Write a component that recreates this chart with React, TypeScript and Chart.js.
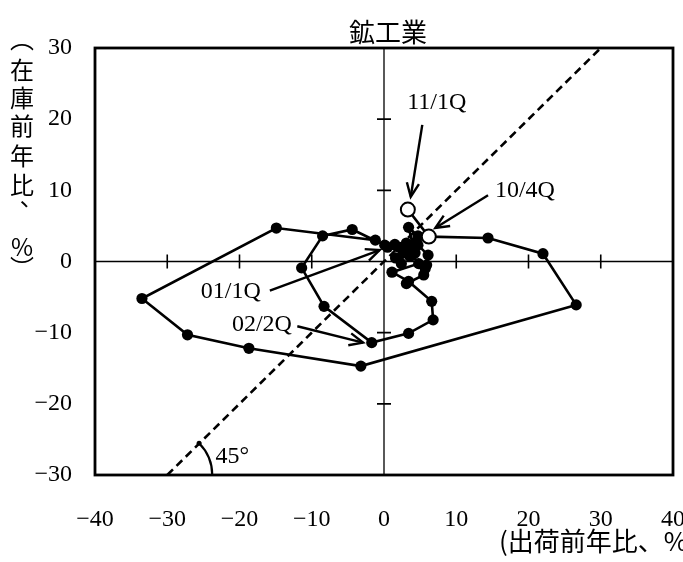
import React, { useEffect, useRef } from "react";
import { Chart, registerables } from "chart.js";

Chart.register(...registerables);

// ---- data (shipments YoY = x, inventory YoY = y) ----
const quarters = [
  "00/1Q", "00/2Q", "00/3Q", "00/4Q",
  "01/1Q", "01/2Q", "01/3Q", "01/4Q",
  "02/1Q", "02/2Q", "02/3Q", "02/4Q",
  "03/1Q", "03/2Q", "03/3Q", "03/4Q",
  "04/1Q", "04/2Q", "04/3Q", "04/4Q",
  "05/1Q", "05/2Q", "05/3Q", "05/4Q",
  "06/1Q", "06/2Q", "06/3Q", "06/4Q",
  "07/1Q", "07/2Q", "07/3Q", "07/4Q",
  "08/1Q", "08/2Q", "08/3Q", "08/4Q",
  "09/1Q", "09/2Q", "09/3Q", "09/4Q",
  "10/1Q", "10/2Q", "10/3Q", "10/4Q",
  "11/1Q",
];
const shipments = [
  3.1, 5.5, 5.9, 3.6,
  0.1, -4.4, -8.5, -11.4,
  -8.3, -1.7, 3.4, 6.8,
  6.6, 3.4, 1.1, 4.8,
  5.7, 6.1, 4.7, 2.9,
  2.7, 2.4, 1.6, 4.1,
  3.4, 4.7, 3.6, 4.3,
  2.7, 3.1, 4.5, 2.2,
  1.5, 0.5, -1.2, -14.9,
  -33.5, -27.2, -18.7, -3.2,
  26.6, 22.0, 14.4, 6.2,
  3.3,
];
const inventory = [
  -3.1, -1.9, -0.5, 0.7,
  2.3, 4.5, 3.6, -0.9,
  -6.3, -11.4, -10.1, -8.2,
  -5.6, -2.8, -1.5, -0.3,
  -1.0, 0.9, 2.3, 2.1,
  1.2, -0.3, 0.5, 1.9,
  4.8, 3.6, 2.2, 1.2,
  1.6, 2.6, 2.8, 2.0,
  2.4, 2.0, 3.0, 4.7,
  -5.2, -10.3, -12.2, -14.7,
  -6.1, 1.1, 3.3, 3.5,
  7.3,
];
const openQuarters = ["10/4Q", "11/1Q"];

const xTicks = [-40, -30, -20, -10, 0, 10, 20, 30, 40];
const yTicks = [-30, -20, -10, 0, 10, 20, 30];
const diagonal = [-30, 30];

const titleText = "鉱工業";
const yTitleChars = ["︵", "在", "庫", "前", "年", "比", "︑", "%", "︶"];
const xTitleText = "(出荷前年比、%)";

const callouts = [
  { label: "11/1Q", at: [7.3, 22.3], from: [5.3, 19.2], to: [3.7, 9.1] },
  { label: "10/4Q", at: [19.5, 9.9], from: [14.4, 9.3], to: [7.1, 4.7] },
  { label: "01/1Q", at: [-21.2, -4.3], from: [-15.8, -4.1], to: [-0.6, 1.6] },
  { label: "02/2Q", at: [-16.9, -8.9], from: [-12.0, -9.1], to: [-2.9, -11.4] },
];
const angleLabel = { label: "45°", at: [-21.0, -27.4] };

const SERIF = "'Liberation Serif', 'DejaVu Serif', serif";
const CJK = "'Noto Sans CJK JP', 'Noto Sans', sans-serif";

function fmt(v: number) {
  return v < 0 ? "\u2212" + Math.abs(v) : String(v);
}

function drawArrow(ctx: CanvasRenderingContext2D, x1: number, y1: number, x2: number, y2: number) {
  ctx.beginPath();
  ctx.moveTo(x1, y1);
  ctx.lineTo(x2, y2);
  ctx.stroke();
  const a = Math.atan2(y2 - y1, x2 - x1);
  const L = 15;
  const w = 0.42;
  ctx.beginPath();
  ctx.moveTo(x2 - L * Math.cos(a - w), y2 - L * Math.sin(a - w));
  ctx.lineTo(x2, y2);
  ctx.lineTo(x2 - L * Math.cos(a + w), y2 - L * Math.sin(a + w));
  ctx.stroke();
}

const overlayPlugin = {
  id: "overlay",
  beforeDatasetsDraw(chart: any) {
    const { ctx, chartArea, scales } = chart;
    const { left, right, top, bottom } = chartArea;
    const xs = scales.x;
    const ys = scales.y;
    const x0 = xs.getPixelForValue(0);
    const y0 = ys.getPixelForValue(0);
    ctx.save();
    ctx.strokeStyle = "#000";
    ctx.lineWidth = 1.3;
    ctx.beginPath();
    ctx.moveTo(left, y0);
    ctx.lineTo(right, y0);
    ctx.moveTo(x0, top);
    ctx.lineTo(x0, bottom);
    ctx.stroke();
    ctx.lineWidth = 1.6;
    ctx.beginPath();
    xTicks.forEach((v) => {
      if (v === 0 || v === xTicks[0] || v === xTicks[xTicks.length - 1]) return;
      const p = xs.getPixelForValue(v);
      ctx.moveTo(p, y0 - 7);
      ctx.lineTo(p, y0 + 7);
    });
    yTicks.forEach((v) => {
      if (v === 0 || v === yTicks[0] || v === yTicks[yTicks.length - 1]) return;
      const p = ys.getPixelForValue(v);
      ctx.moveTo(x0 - 7, p);
      ctx.lineTo(x0 + 7, p);
    });
    ctx.stroke();
    ctx.restore();
  },
  afterDraw(chart: any) {
    const { ctx, chartArea, scales } = chart;
    const { left, right, top, bottom } = chartArea;
    const xs = scales.x;
    const ys = scales.y;
    ctx.save();
    // frame
    ctx.strokeStyle = "#000";
    ctx.lineWidth = 2.8;
    ctx.strokeRect(left, top, right - left, bottom - top);

    // callouts
    ctx.lineWidth = 2.4;
    ctx.fillStyle = "#000";
    ctx.font = `24px ${SERIF}`;
    ctx.textAlign = "center";
    ctx.textBaseline = "middle";
    callouts.forEach((c) => {
      drawArrow(
        ctx,
        xs.getPixelForValue(c.from[0]),
        ys.getPixelForValue(c.from[1]),
        xs.getPixelForValue(c.to[0]),
        ys.getPixelForValue(c.to[1])
      );
      ctx.fillText(c.label, xs.getPixelForValue(c.at[0]), ys.getPixelForValue(c.at[1]));
    });

    // 45 degree arc
    const cx = xs.getPixelForValue(diagonal[0]);
    const cy = ys.getPixelForValue(diagonal[0]);
    ctx.lineWidth = 2.2;
    ctx.beginPath();
    ctx.arc(cx, cy, 45, -Math.PI / 4, 0);
    ctx.stroke();
    ctx.beginPath();
    ctx.arc(cx + 45 * Math.cos(Math.PI / 4), cy - 45 * Math.sin(Math.PI / 4), 2.5, 0, Math.PI * 2);
    ctx.fill();
    ctx.fillText(angleLabel.label, xs.getPixelForValue(angleLabel.at[0]), ys.getPixelForValue(angleLabel.at[1]));

    // title
    ctx.font = `26px ${CJK}`;
    ctx.fillText(titleText, 388, 32);

    // vertical y title (stacked characters, vertical presentation forms)
    ctx.font = `24px ${CJK}`;
    const yPos = [39, 70, 98, 126, 156, 185, 212, 247, 268];
    const xPos = [22, 22, 22, 22, 22, 22, 17, 22, 22];
    yTitleChars.forEach((ch, i) => {
      ctx.fillText(ch, xPos[i], yPos[i]);
    });

    // x title
    ctx.textAlign = "left";
    ctx.font = `26px ${CJK}`;
    ctx.fillText(xTitleText, 499, 541);
    ctx.restore();
  },
};

export default function App() {
  const ref = useRef<HTMLCanvasElement | null>(null);

  useEffect(() => {
    if (!ref.current) return;
    const points = quarters.map((q, i) => ({ x: shipments[i], y: inventory[i] }));
    const isOpen = (i: number) => openQuarters.includes(quarters[i]);
    const chart = new Chart(ref.current, {
      type: "scatter",
      data: {
        datasets: [
          {
            label: "鉱工業",
            data: points,
            showLine: true,
            borderColor: "#000",
            borderWidth: 2.6,
            pointRadius: (c: any) => (isOpen(c.dataIndex) ? 7 : 5.6),
            pointBackgroundColor: (c: any) => (isOpen(c.dataIndex) ? "#fff" : "#000"),
            pointBorderColor: "#000",
            pointBorderWidth: (c: any) => (isOpen(c.dataIndex) ? 2 : 0),
            pointHoverRadius: 5,
          },
          {
            label: "45°",
            data: diagonal.map((v) => ({ x: v, y: v })),
            showLine: true,
            borderColor: "#000",
            borderWidth: 2.6,
            borderDash: [8, 5],
            pointRadius: 0,
          },
        ],
      },
      options: {
        animation: false,
        responsive: true,
        maintainAspectRatio: false,
        layout: { padding: { top: 48, right: 10, left: 0, bottom: 0 } },
        plugins: {
          legend: { display: false },
          tooltip: { enabled: false },
          title: { display: false },
        },
        scales: {
          x: {
            type: "linear",
            min: xTicks[0],
            max: xTicks[xTicks.length - 1],
            afterBuildTicks: (s: any) => {
              s.ticks = xTicks.map((v) => ({ value: v }));
            },
            afterFit: (s: any) => {
              s.height = 87;
              s.paddingLeft = 0;
              s.paddingRight = 0;
            },
            grid: { display: false, drawTicks: false },
            border: { display: false },
            ticks: {
              padding: 30,
              color: "#000",
              font: { family: SERIF, size: 24 },
              maxRotation: 0,
              autoSkip: false,
              callback: (v: any) => fmt(Number(v)),
            },
          },
          y: {
            type: "linear",
            min: yTicks[0],
            max: yTicks[yTicks.length - 1],
            afterBuildTicks: (s: any) => {
              s.ticks = yTicks.map((v) => ({ value: v }));
            },
            afterFit: (s: any) => {
              s.width = 95;
              s.paddingTop = 0;
              s.paddingBottom = 0;
            },
            grid: { display: false, drawTicks: false },
            border: { display: false },
            ticks: {
              padding: 23,
              color: "#000",
              font: { family: SERIF, size: 24 },
              autoSkip: false,
              callback: (v: any) => fmt(Number(v)),
            },
          },
        },
      },
      plugins: [overlayPlugin],
    } as any);
    return () => chart.destroy();
  }, []);

  return (
    <div style={{ position: "fixed", left: 0, top: 0, width: 683, height: 562, background: "#fff" }}>
      <canvas ref={ref} />
    </div>
  );
}
